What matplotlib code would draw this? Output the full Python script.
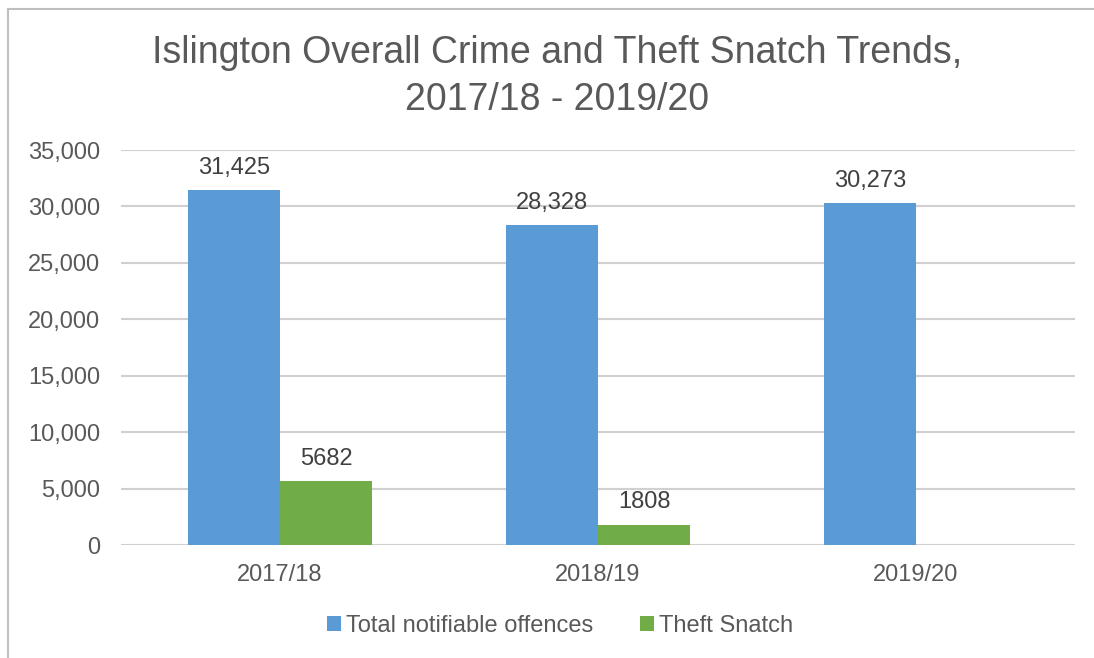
import numpy as np
import matplotlib.pyplot as plt
from matplotlib.lines import Line2D

years = ['2017/18', '2018/19', '2019/20']
total_offences = [31425, 28328, 30273]
theft_snatch = [5682, 1808, None]
total_labels = ['31,425', '28,328', '30,273']
snatch_labels = ['5682', '1808', '']

plt.rcParams['font.family'] = ['Liberation Sans', 'DejaVu Sans']
text_col = '#595959'

fig = plt.figure(figsize=(10.94, 6.58), dpi=100)
ax = fig.add_axes([121 / 1094, 1 - 545 / 658, 954 / 1094, 395 / 658])

x = np.arange(len(years))
w = 0.29
snatch_vals = [v if v is not None else 0 for v in theft_snatch]
ax.bar(x - w / 2, total_offences, w, color='#5B9BD5', label='Total notifiable offences', zorder=3)
ax.bar(x + w / 2, snatch_vals, w, color='#70AD47', label='Theft Snatch', zorder=3)

for i in range(len(years)):
    ax.text(x[i] - w / 2, total_offences[i] + 1000, total_labels[i], ha='center', va='bottom',
            fontsize=17, color='#404040')
    if snatch_labels[i]:
        ax.text(x[i] + w / 2, snatch_vals[i] + 1000, snatch_labels[i], ha='center', va='bottom',
                fontsize=17, color='#404040')

ax.set_xlim(-0.5, 2.5)
ax.set_ylim(0, 35000)
ax.set_yticks(range(0, 35001, 5000))
ax.set_yticklabels([f'{v:,}' for v in range(0, 35001, 5000)])
ax.set_xticks(x)
ax.set_xticklabels(years)
ax.tick_params(axis='both', length=0, labelsize=17, colors=text_col)
ax.tick_params(axis='y', pad=15)
ax.tick_params(axis='x', pad=14)
ax.grid(axis='y', color='#D0D0D0', linewidth=1.5, zorder=0)
for s in ax.spines.values():
    s.set_visible(False)

fig.text(0.509, 1 - 53 / 658, 'Islington Overall Crime and Theft Snatch Trends,', ha='center', va='center',
         fontsize=27, color=text_col)
fig.text(0.509, 1 - 100 / 658, '2017/18 - 2019/20', ha='center', va='center',
         fontsize=27, color=text_col)

fig.legend(loc='center', bbox_to_anchor=(0.512, 1 - 626 / 658), ncol=2, frameon=False,
           fontsize=17, handlelength=0.6, handleheight=0.6, handletextpad=0.2, columnspacing=2.0,
           labelcolor=text_col)

# chart border (only top and left edges are visible in the crop)
fig.lines.append(Line2D([8 / 1094, 1], [1 - 9 / 658, 1 - 9 / 658], transform=fig.transFigure,
                        color='#BFBFBF', linewidth=1.5))
fig.lines.append(Line2D([8 / 1094, 8 / 1094], [0, 1 - 9 / 658], transform=fig.transFigure,
                        color='#BFBFBF', linewidth=1.5))

fig.savefig('out.png', dpi=100)
